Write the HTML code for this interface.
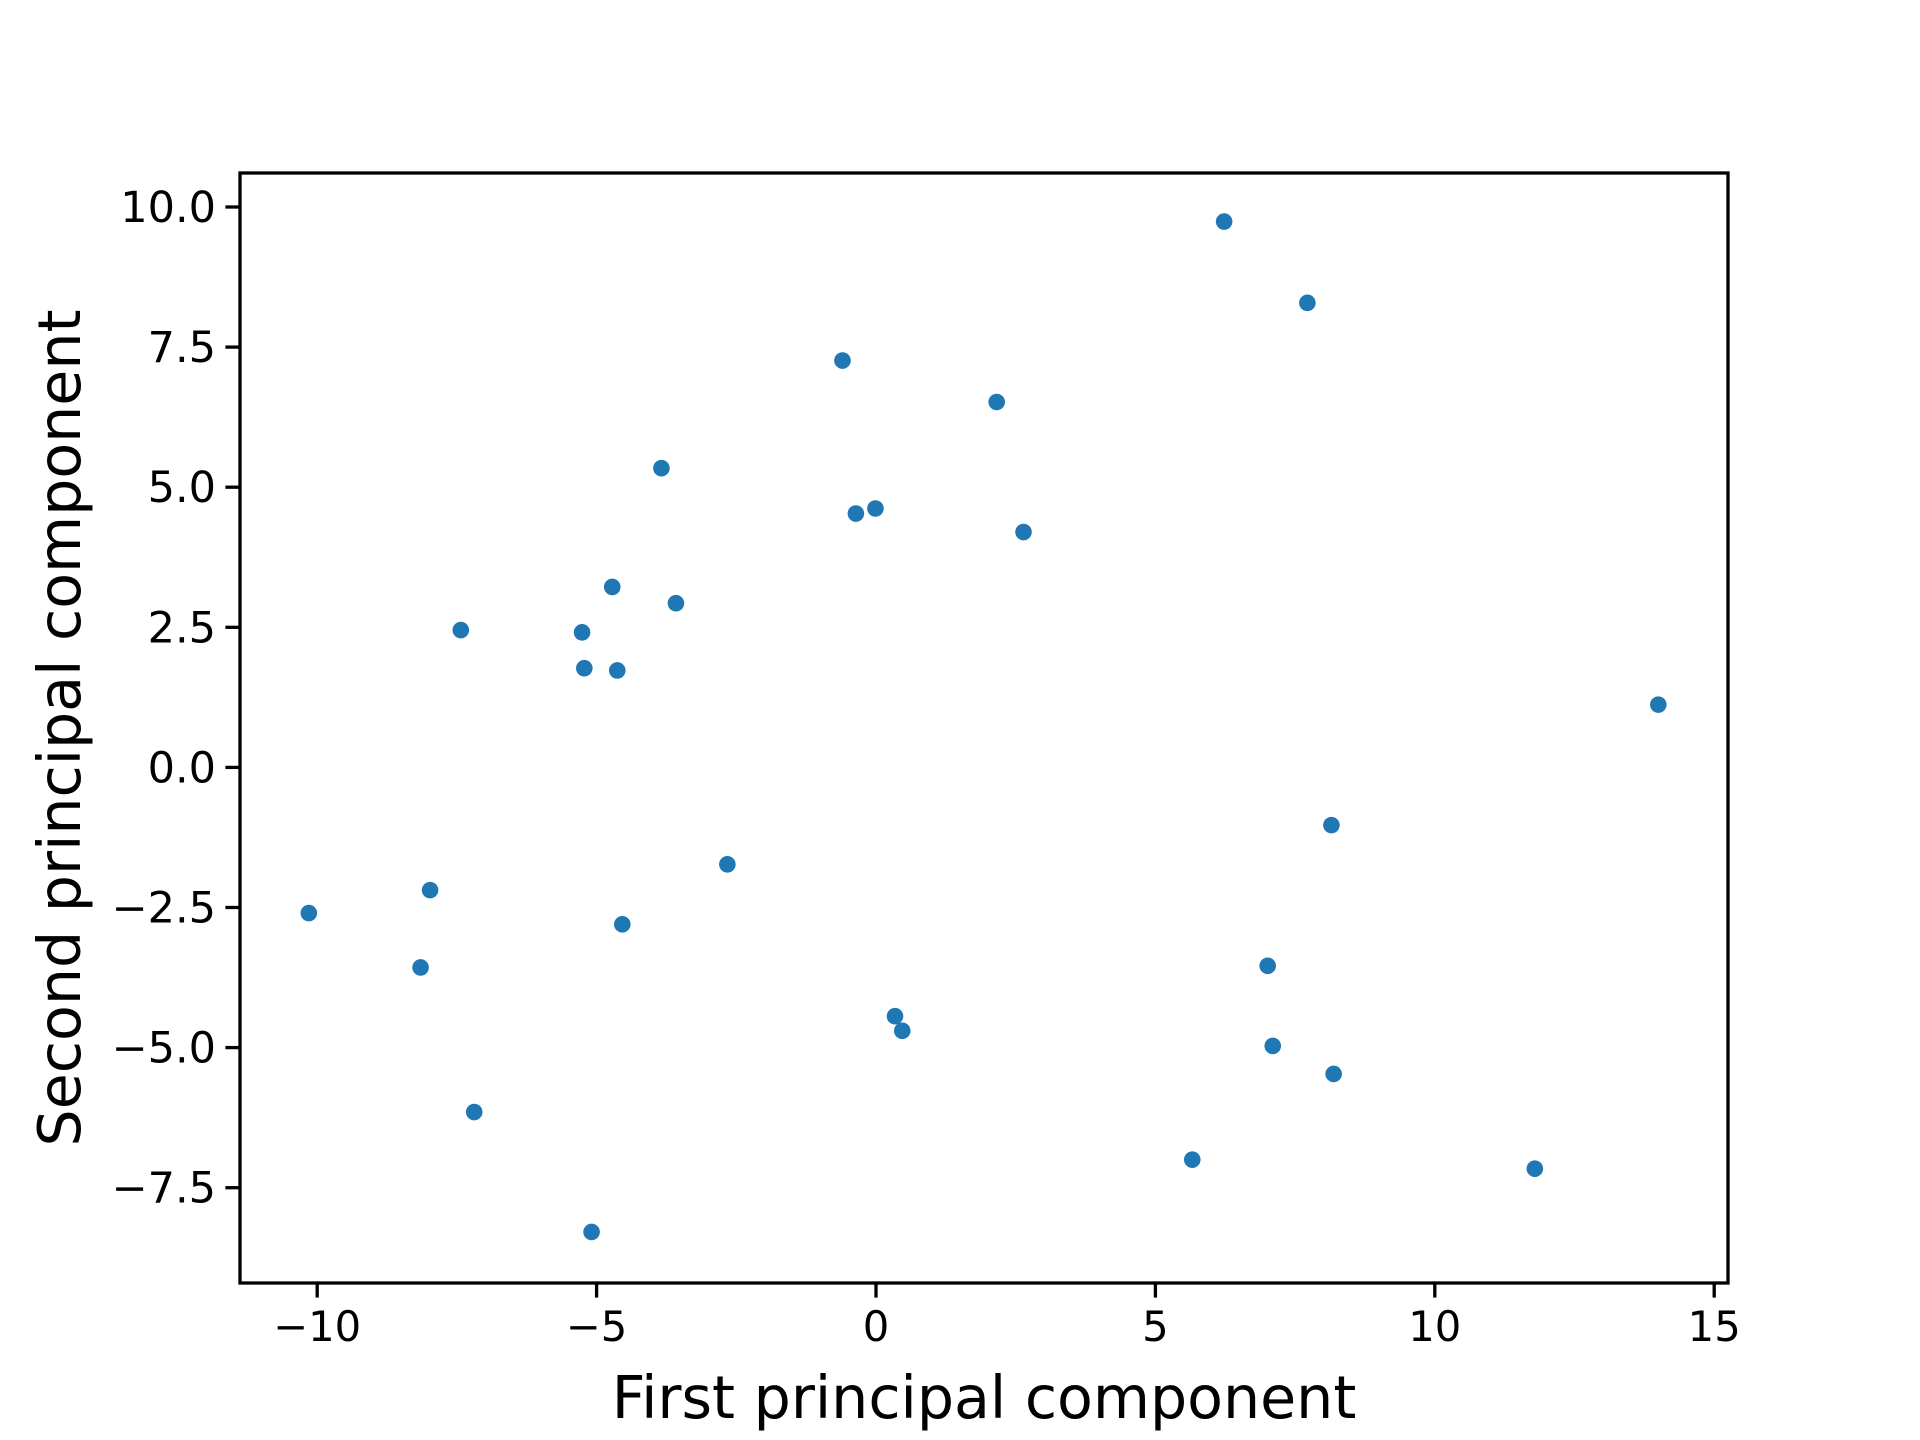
<!DOCTYPE html>
<html><head><meta charset="utf-8"><style>html,body{margin:0;padding:0;background:#fff}svg{display:block}</style></head>
<body>
<svg id="chart" width="1920" height="1440" xmlns="http://www.w3.org/2000/svg" font-family="'DejaVu Sans', 'Liberation Sans', sans-serif">
<g id="marks"></g>
<g id="axes"></g>
</svg>
<script>
const pc1 = [6.23,7.72,-0.60,2.16,-3.84,-0.36,-0.01,2.64,-4.72,-3.58,-7.43,-5.26,-5.22,-4.63,14.0,8.15,-2.66,-7.98,-10.15,-4.54,-8.15,7.01,0.34,0.47,7.10,8.19,-7.19,5.66,11.79,-5.09];
const pc2 = [9.74,8.29,7.26,6.52,5.34,4.53,4.62,4.20,3.22,2.93,2.45,2.41,1.77,1.73,1.12,-1.03,-1.73,-2.19,-2.60,-2.80,-3.57,-3.54,-4.44,-4.70,-4.97,-5.47,-6.15,-7.00,-7.16,-8.29];
const xTicks = [-10,-5,0,5,10,15];
const xTickLabels = ["\u221210","\u22125","0","5","10","15"];
const yTicks = [10,7.5,5,2.5,0,-2.5,-5,-7.5];
const yTickLabels = ["10.0","7.5","5.0","2.5","0.0","\u22122.5","\u22125.0","\u22127.5"];

const NS="http://www.w3.org/2000/svg";
const L=240,R=1728,T=173,B=1283;
function xs(v){return 876+v*55.88;}
function ys(v){return 767.4-v*56.04;}
function mk(tag,attrs,parent){const e=document.createElementNS(NS,tag);for(const k in attrs)e.setAttribute(k,attrs[k]);parent.appendChild(e);return e;}
const marks=document.getElementById('marks');
const axes=document.getElementById('axes');
for(let i=0;i<pc1.length;i++){
  const c=mk('circle',{cx:xs(pc1[i]),cy:ys(pc2[i]),r:8.3,fill:'#1f77b4'},marks);
  
  
}
const frame=mk('rect',{x:L,y:T,width:R-L,height:B-T,fill:'none',stroke:'#000','stroke-width':3.3},axes);


xTicks.forEach((v,i)=>{
  const x=xs(v);
  const t=mk('line',{x1:x,x2:x,y1:B,y2:B+14.6,stroke:'#000','stroke-width':3.3},axes);
  
  
  const tx=mk('text',{x:x,y:B+58,'font-size':41.7,'text-anchor':'middle',fill:'#000'},axes);
  tx.textContent=xTickLabels[i];
  
  
});
yTicks.forEach((v,i)=>{
  const y=ys(v);
  const t=mk('line',{x1:L-14.6,x2:L,y1:y,y2:y,stroke:'#000','stroke-width':3.3},axes);
  
  
  const tx=mk('text',{x:L-24,y:y+15,'font-size':43,'text-anchor':'end',fill:'#000'},axes);
  tx.textContent=yTickLabels[i];
  
  
});
const xl=mk('text',{x:(L+R)/2,y:1418,'font-size':58.6,'text-anchor':'middle',fill:'#000'},axes);
xl.textContent='First principal component';


const yl=mk('text',{x:0,y:0,'font-size':58.6,'text-anchor':'middle',fill:'#000',transform:'translate(80,'+((T+B)/2)+') rotate(-90)'},axes);
yl.textContent='Second principal component';


</script>
</body></html>
